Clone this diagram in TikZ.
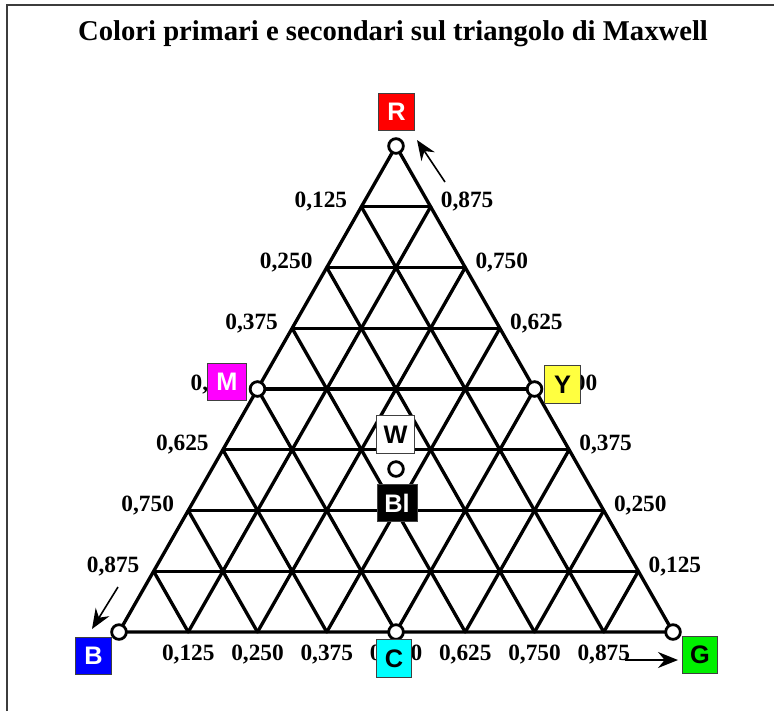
\documentclass[tikz,border=0pt]{standalone}
\usepackage{fontspec}
\setmainfont{Liberation Serif}
\newfontfamily\boxfont{Liberation Sans}
\usetikzlibrary{arrows.meta,calc}
\definecolor{FrameGray}{HTML}{3C3C3C}
\definecolor{BoxEdge}{HTML}{404040}
\definecolor{RedBox}{HTML}{FF0000}
\definecolor{MagentaBox}{HTML}{FF00FF}
\definecolor{YellowBox}{HTML}{FFFF40}
\definecolor{BlueBox}{HTML}{0000FF}
\definecolor{CyanBox}{HTML}{00FFFF}
\definecolor{GreenBox}{HTML}{00F000}

\begin{document}
\begin{tikzpicture}[
  x=0.75pt,y=-0.75pt,
  frame/.style={draw=FrameGray,line width=1.5pt},
  grid/.style={draw=black,line width=2.5pt,line cap=round,line join=round},
  dot/.style={circle,draw=black,fill=white,line width=2.1pt,minimum size=11pt,inner sep=0pt},
  tick/.style={font=\bfseries\fontsize{17.5}{19}\selectfont,inner sep=0pt},
  colbox/.style={draw=BoxEdge,line width=0.6pt,minimum width=26.5pt,minimum height=28pt,inner sep=0pt,font=\boxfont\bfseries\fontsize{19}{21}\selectfont},
  pointer/.style={draw=black,line width=1.2pt,-{Stealth[length=15pt,width=12pt,inset=5pt]}}
]
\useasboundingbox (0,0) rectangle (774,711);
\draw[frame] (7,711) -- (7,5) -- (774,5);
\node[font=\bfseries\fontsize{21.5}{25}\selectfont] (title) at (393,34) {Colori primari e secondari sul triangolo di Maxwell};

% vertices of the triangle
\coordinate (R) at (396,146);
\coordinate (B) at (119,632);
\coordinate (G) at (673,632);

% grid of eighths
\foreach \k in {1,...,7} {
  \draw[grid] ($(R)!\k/8!(B)$) -- ($(R)!\k/8!(G)$);
  \draw[grid] ($(B)!\k/8!(R)$) -- ($(B)!\k/8!(G)$);
  \draw[grid] ($(G)!\k/8!(R)$) -- ($(G)!\k/8!(B)$);
}
\draw[grid] (R) -- (B) -- (G) -- cycle;

% scale values
\foreach \k/\v/\w in {1/{0,125}/{0,875},2/{0,250}/{0,750},3/{0,375}/{0,625},4/{0,500}/{0,500},5/{0,625}/{0,375},6/{0,750}/{0,250},7/{0,875}/{0,125}} {
  \node[tick,anchor=base east] (left\k) at ($(R)!\k/8!(B)+(-14,1)$) {\v};
  \node[tick,anchor=base west] (right\k) at ($(R)!\k/8!(G)+(10,1)$) {\w};
  \node[tick,anchor=base] (bottom\k) at ($(B)!\k/8!(G)+(0,28)$) {\v};
}

% colour points
\node[dot] (pR) at (R) {};
\node[dot] (pB) at (B) {};
\node[dot] (pG) at (G) {};
\node[dot] (pM) at ($(R)!0.5!(B)$) {};
\node[dot] (pY) at ($(R)!0.5!(G)$) {};
\node[dot] (pC) at ($(B)!0.5!(G)$) {};
\node[dot] (pW) at (396,469) {};

% colour labels
\node[colbox,fill=RedBox,text=white] (boxR) at (396.5,112) {R};
\node[colbox,fill=MagentaBox,text=white,minimum width=29pt] (boxM) at (227,382) {M};
\node[colbox,fill=YellowBox,text=black] (boxY) at (562.5,384.5) {Y};
\node[colbox,fill=white,text=black,minimum width=29pt] (boxW) at (395.5,434.5) {W};
\node[colbox,fill=black,text=white,minimum width=30pt] (boxBl) at (397,503) {Bl};
\node[colbox,fill=BlueBox,text=white] (boxB) at (93.5,656) {B};
\node[colbox,fill=CyanBox,text=black] (boxC) at (394,658.5) {C};
\node[colbox,fill=GreenBox,text=black] (boxG) at (700,655) {G};

% reading directions
\coordinate (aR0) at (445,182);
\coordinate (aR1) at (417,140);
\coordinate (aB0) at (118,587);
\coordinate (aB1) at (92,629);
\coordinate (aG0) at (625,660);
\coordinate (aG1) at (678,660);
\draw[pointer] (aR0) -- (aR1);
\draw[pointer] (aB0) -- (aB1);
\draw[pointer] (aG0) -- (aG1);
\end{tikzpicture}
\end{document}
